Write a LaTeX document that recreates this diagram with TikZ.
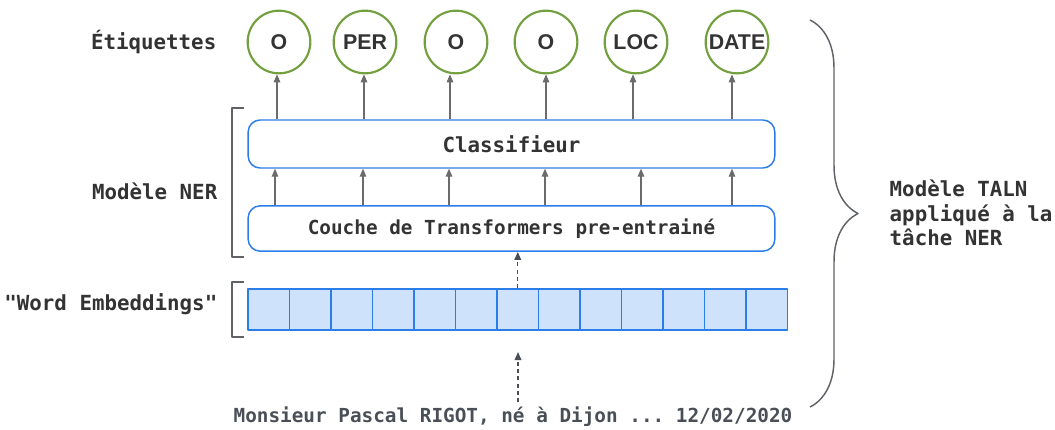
\documentclass[tikz,border=0pt]{standalone}
\usepackage{fontspec}
\setmonofont{DejaVu Sans Mono}
\setsansfont{Liberation Sans}
\usetikzlibrary{arrows.meta,decorations.pathreplacing,positioning}
\definecolor{txtgray}{HTML}{333333}
\definecolor{boxblue}{HTML}{2B7DE9}
\definecolor{cellfill}{HTML}{CFE2FC}
\definecolor{taggreen}{HTML}{73A03E}
\definecolor{arrgray}{HTML}{6B6B6B}
\definecolor{dashgray}{HTML}{4A4F57}
\definecolor{brgray}{HTML}{5F6368}
\begin{document}
\begin{tikzpicture}[x=0.75pt, y=-0.75pt, line join=round, >={Triangle[length=6pt,width=5pt]},
  biglbl/.style={font=\ttfamily\bfseries\fontsize{15.6}{18.4}\selectfont, text=txtgray},
  smalllbl/.style={font=\ttfamily\bfseries\fontsize{14.5}{17}\selectfont, text=txtgray},
  tag/.style={circle, draw=taggreen, line width=1.6pt, minimum size=47pt, inner sep=0pt,
    font=\sffamily\bfseries\fontsize{16}{18}\selectfont, text=txtgray},
  layer/.style={draw=boxblue, line width=1.1pt, rounded corners=9pt, minimum width=395pt, inner sep=0pt},
  cell/.style={draw=boxblue, fill=cellfill, line width=1pt, minimum width=31.1pt, minimum height=30.75pt, inner sep=0pt},
  uparr/.style={->, draw=arrgray, line width=0.8pt},
  dasharr/.style={->, draw=dashgray, line width=1pt, dash pattern=on 3pt off 2.5pt},
  bracket/.style={draw=brgray, line width=1.2pt}]
\useasboundingbox (0,0) rectangle (1055,429);

% etiquettes
\node[biglbl, anchor=east] (etiq) at (221,42) {Étiquettes};
\node[tag] (t1) at (279,42) {O};
\node[tag] (t2) at (365,42) {PER};
\node[tag] (t3) at (456,42) {O};
\node[tag] (t4) at (546,42) {O};
\node[tag] (t5) at (636,42) {LOC};
\node[tag] (t6) at (737,42) {DATE};

% modele NER
\node[layer, minimum height=36pt, smalllbl, font=\ttfamily\bfseries\fontsize{15.6}{18}\selectfont] (cls) at (511.5,144) {Classifieur};
\node[layer, minimum height=34pt, smalllbl] (trf) at (511.5,228.5) {Couche de Transformers pre-entrainé};
\node[biglbl, anchor=east] (ner) at (222,191) {Modèle NER};
\draw[bracket] (244,108) -- (232,108) -- (232,257) -- (244,257);

\foreach \i/\x in {1/277,2/364,3/450,4/546,5/633,6/732}
  \draw[uparr] (cls.north -| \x,0) -- (t\i.south -| \x,0);
\foreach \x in {275,363,449,545,641,732}
  \draw[uparr] (trf.north -| \x,0) -- (cls.south -| \x,0);

% embeddings
\foreach \i in {0,...,12}
  \node[cell] (e\i) at ({268.75+41.5*\i},309.5) {};
\node[biglbl, anchor=east] (emb) at (222,304) {"Word Embeddings"};
\draw[bracket] (244,282) -- (232,282) -- (232,337) -- (244,337);
\draw[dasharr] (e6.north) -- (trf.south -| e6.north);

% phrase
\node[smalllbl, text=dashgray] (phr) at (513,417) {Monsieur Pascal RIGOT, né à Dijon ... 12/02/2020};
\coordinate (inp) at (518,352);
\draw[dasharr] (phr.north -| inp) -- (inp);

% accolade
\coordinate (brtop) at (810,20);
\coordinate (brbot) at (810,407);
\draw[bracket, line width=1.1pt, decorate, decoration={brace, amplitude=36pt}] (brtop) -- (brbot);
\node[biglbl, anchor=west, align=left] (taln) at (885,213) {Modèle TALN\\appliqué à la\\tâche NER};
\end{tikzpicture}
\end{document}
